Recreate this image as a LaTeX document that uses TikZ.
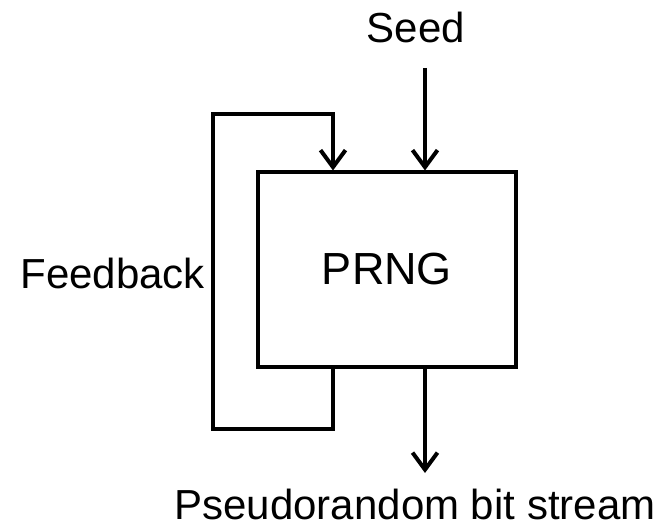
\documentclass[tikz,border=0pt]{standalone}
\usepackage{fontspec}
\setmainfont{Liberation Sans}
\usetikzlibrary{arrows.meta, positioning, calc}

\begin{document}
\begin{tikzpicture}[
  x=1pt, y=-1pt,
  every node/.style={font=\fontsize{42}{48}\selectfont, inner sep=0pt},
  block/.style={draw, line width=4pt, minimum width=258pt, minimum height=194pt,
    font=\fontsize{45}{50}\selectfont},
  lbl/.style={anchor=base},
  arr/.style={-{Straight Barb[length=17pt, width=25pt]}, line width=4pt}
]
  \useasboundingbox (0,0) rectangle (669,529);

  \node[block] (prng) at (387, 269.5) {PRNG};
  \node[lbl] (seed) at (416, 43) {Seed};
  \node[lbl, anchor=base east] (fb) at (205, 289) {Feedback};
  \node[lbl] (out) at (415, 519) {Pseudorandom bit stream};

  \coordinate (seedx) at (425, 68);
  \coordinate (fbx) at (333, 0);
  \coordinate (loopbl) at (213, 429);
  \coordinate (looptl) at (213, 114);
  \coordinate (outend) at (425, 473);

  \draw[arr] (seedx) -- (prng.north -| seedx);
  \draw[arr] (prng.south -| fbx) |- (loopbl) -- (looptl) -| (prng.north -| fbx);
  \draw[arr] (prng.south -| outend) -- (outend);
\end{tikzpicture}
\end{document}
